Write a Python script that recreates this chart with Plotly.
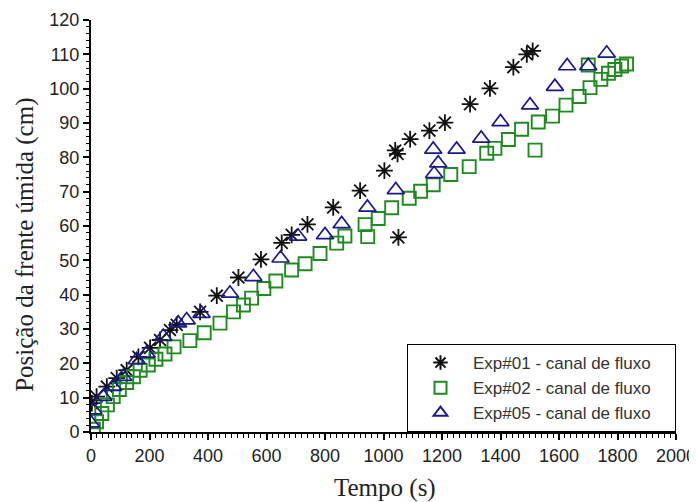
import plotly.graph_objects as go

# Exp#01 - canal de fluxo (asterisks)
exp01_t = [3, 19, 54, 88, 122, 162, 202, 236, 270, 293, 373, 430, 504, 581, 652, 686, 740,
           828, 920, 1003, 1040, 1048, 1051, 1091, 1157, 1210, 1296, 1364, 1444, 1490, 1510]
exp01_y = [8.4, 10.3, 13.2, 15.7, 18, 21.9, 24.5, 26.8, 29.7, 31.2, 35, 39.7, 45, 50.3, 55.1, 57.4, 60.5,
           65.4, 70.3, 76.1, 82, 81, 56.7, 85.3, 87.8, 90.1, 95.5, 100.1, 106.3, 110, 111]

# Exp#02 - canal de fluxo (squares)
exp02_t = [8, 19, 37, 56, 76, 97, 122, 145, 168, 196, 222, 253, 284, 338, 387, 441, 487, 521, 549,
           591, 632, 686, 732, 783, 840, 868, 946, 937, 982, 1028, 1088, 1127, 1170, 1230, 1293,
           1353, 1381, 1427, 1472, 1518, 1529, 1578, 1624, 1669, 1700, 1706, 1743, 1769, 1791, 1814, 1831]
exp02_y = [0.8, 3, 5.4, 7.9, 10.3, 12.4, 14.4, 16.1, 18, 19.5, 21.2, 22.7, 24.8, 26.6, 28.9, 31.7, 35, 37, 39,
           41.8, 44, 47.2, 49, 52, 55, 57.1, 56.9, 60.4, 62.2, 65.3, 68.1, 70.1, 72, 75, 77.3,
           81.2, 82.6, 85.2, 88.2, 82.1, 90.3, 92, 95.2, 97.7, 106.9, 100.3, 102.7, 104.5, 105.6, 106.6, 107.2]

# Exp#05 - canal de fluxo (triangles)
exp05_t = [0, 8, 42, 76, 110, 156, 190, 247, 298, 327, 378, 475, 555, 648, 708, 800, 857, 945,
           1042, 1173, 1187, 1170, 1250, 1334, 1400, 1501, 1586, 1628, 1700, 1763]
exp05_y = [2.6, 6.4, 10.3, 13.2, 16.1, 21, 22.9, 27.8, 31.7, 32.6, 34.5, 40.4, 45.2, 50.6, 57, 57.4, 60.6, 65.4,
           70.5, 75.2, 78.3, 82.3, 82.3, 85.5, 90.3, 95.2, 100.6, 106.6, 106.6, 110.3]

x_ticks = [0, 200, 400, 600, 800, 1000, 1200, 1400, 1600, 1800, 2000]
y_ticks = [0, 10, 20, 30, 40, 50, 60, 70, 80, 90, 100, 110, 120]

x_title = "Tempo (s)"
y_title = "Posição da frente úmida (cm)"

pad = "\u00a0\u00a0\u00a0\u00a0"

fig = go.Figure()
fig.add_trace(go.Scatter(x=exp01_t, y=exp01_y, mode="markers", name="Exp#01 - canal de fluxo" + pad,
                         marker=dict(symbol="asterisk-open", size=14, color="#111111",
                                     line=dict(width=1.8, color="#111111"))))
fig.add_trace(go.Scatter(x=exp02_t, y=exp02_y, mode="markers", name="Exp#02 - canal de fluxo" + pad,
                         marker=dict(symbol="square-open", size=13, color="#1f8a1f",
                                     line=dict(width=1.9, color="#1f8a1f"))))
fig.add_trace(go.Scatter(x=exp05_t, y=exp05_y, mode="markers", name="Exp#05 - canal de fluxo" + pad,
                         marker=dict(symbol="triangle-up-open", size=15, color="#1a1a8c",
                                     line=dict(width=1.7, color="#1a1a8c"))))

axis_common = dict(showgrid=False, zeroline=False, showline=True, linecolor="black", linewidth=2,
                   ticks="outside", ticklen=6, tickwidth=1.5, tickcolor="black",
                   tickfont=dict(family="Liberation Sans, Arial", size=18, color="#222222"),
                   mirror=False, automargin=False)

title_font = dict(family="Liberation Serif, Times New Roman", size=25, color="#222222")

# page body adds an 8px offset; figure sized to fit inside the 697x502 window
fig.update_layout(
    width=689, height=494,
    margin=dict(l=83, r=21, t=12, b=70),
    paper_bgcolor="white", plot_bgcolor="white",
    xaxis=dict(range=[0, 2000], tickvals=x_ticks, ticktext=[str(v) for v in x_ticks],
               minor=dict(dtick=20, ticks="outside", ticklen=4, tickcolor="black", tickwidth=1),
               **axis_common),
    yaxis=dict(range=[0, 120], tickvals=y_ticks, ticktext=[str(v) for v in y_ticks],
               minor=dict(dtick=2, ticks="outside", ticklen=3, tickcolor="black", tickwidth=1),
               **axis_common),
    legend=dict(x=1, xanchor="right", y=0, yanchor="bottom", bgcolor="white",
                bordercolor="black", borderwidth=1,
                font=dict(family="Liberation Sans, Arial", size=17, color="#333333"),
                itemsizing="constant", itemwidth=55, tracegroupgap=0),
    showlegend=True,
    annotations=[
        dict(text=x_title, xref="paper", yref="paper", x=0.502, y=-0.136,
             xanchor="center", yanchor="middle", showarrow=False, font=title_font),
        dict(text=y_title, xref="paper", yref="paper", x=-0.113, y=0.454, textangle=-90,
             xanchor="center", yanchor="middle", showarrow=False, font=title_font),
    ],
)

fig.write_html("out.html")
